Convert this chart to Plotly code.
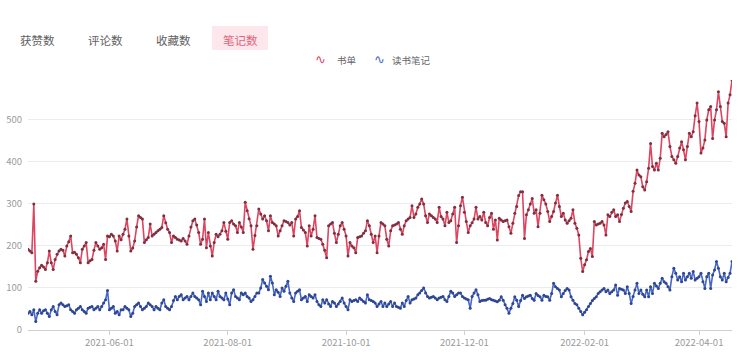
import pandas as pd
import plotly.graph_objects as go

start_date = "2021-04-20"

shudan = [
    192, 188, 184, 300, 116, 140, 148, 154, 150, 144, 160, 188, 160, 144, 168, 180, 188, 192, 190, 176,
    200, 210, 224, 184, 185, 180, 172, 160, 192, 200, 208, 160, 165, 168, 190, 208, 200, 192, 196, 204,
    168, 224, 222, 228, 224, 212, 188, 224, 215, 228, 240, 264, 224, 188, 195, 212, 245, 272, 268, 264,
    208, 215, 220, 252, 224, 228, 232, 236, 240, 244, 272, 255, 240, 232, 208, 224, 220, 216, 214, 212,
    218, 212, 204, 224, 245, 260, 264, 250, 232, 204, 216, 264, 196, 232, 200, 176, 208, 228, 222, 228,
    236, 256, 235, 216, 256, 260, 252, 248, 232, 256, 245, 232, 304, 284, 265, 248, 192, 225, 248, 288,
    276, 264, 272, 260, 236, 272, 256, 252, 248, 224, 236, 248, 260, 258, 256, 250, 256, 224, 264, 270,
    284, 244, 238, 232, 200, 248, 224, 240, 272, 220, 218, 216, 204, 190, 172, 248, 252, 256, 230, 208,
    228, 248, 256, 240, 224, 176, 208, 200, 196, 184, 220, 222, 224, 230, 236, 260, 248, 228, 208, 224,
    184, 224, 256, 252, 248, 216, 200, 236, 248, 250, 252, 256, 240, 228, 248, 260, 264, 268, 296, 268,
    276, 292, 300, 312, 300, 272, 256, 276, 272, 268, 264, 256, 292, 270, 264, 248, 280, 256, 260, 276,
    292, 208, 248, 296, 316, 280, 258, 232, 248, 255, 264, 292, 264, 270, 262, 280, 256, 248, 268, 278,
    240, 262, 214, 266, 262, 258, 260, 262, 246, 230, 254, 278, 294, 320, 329, 329, 218, 274, 286, 300,
    313, 278, 286, 246, 278, 321, 310, 300, 282, 258, 270, 282, 302, 321, 294, 270, 278, 262, 254, 260,
    266, 286, 254, 242, 226, 171, 139, 155, 167, 187, 194, 175, 258, 250, 252, 254, 258, 250, 226, 274,
    270, 280, 286, 270, 274, 258, 275, 290, 302, 306, 294, 282, 330, 349, 381, 369, 365, 341, 333, 353,
    385, 444, 389, 381, 397, 381, 409, 468, 460, 465, 472, 437, 413, 405, 397, 413, 433, 448, 429, 405,
    437, 468, 460, 472, 510, 540, 496, 421, 433, 452, 500, 524, 532, 456, 500, 524, 567, 532, 496, 492,
    460, 540, 560, 595,
]

dushu_biji = [
    40, 44, 36, 48, 20, 40, 48, 40, 46, 48, 40, 32, 48, 56, 44, 36, 60, 64, 60, 56,
    58, 60, 48, 44, 40, 48, 52, 56, 48, 44, 40, 52, 54, 56, 48, 52, 56, 48, 56, 64,
    72, 94, 48, 52, 56, 40, 44, 36, 48, 48, 56, 52, 48, 32, 40, 56, 60, 64, 56, 48,
    52, 56, 64, 60, 56, 48, 56, 52, 48, 64, 72, 56, 52, 48, 56, 70, 80, 72, 80, 84,
    72, 76, 80, 72, 80, 88, 80, 76, 72, 60, 92, 80, 68, 88, 72, 88, 80, 72, 92, 80,
    76, 72, 88, 74, 60, 88, 96, 80, 76, 72, 88, 84, 88, 80, 76, 68, 72, 80, 88, 88,
    100, 120, 112, 104, 96, 128, 112, 84, 96, 90, 80, 100, 92, 104, 116, 88, 76, 68, 88, 92,
    96, 72, 76, 80, 68, 84, 80, 76, 84, 68, 60, 56, 72, 64, 72, 62, 56, 68, 64, 56,
    62, 68, 76, 64, 56, 48, 72, 68, 70, 72, 68, 76, 72, 68, 64, 84, 72, 70, 68, 64,
    56, 62, 68, 56, 64, 56, 62, 68, 56, 64, 56, 54, 52, 64, 56, 70, 80, 64, 72, 74,
    76, 84, 88, 94, 100, 88, 80, 76, 78, 80, 76, 72, 76, 78, 80, 72, 68, 80, 92, 88,
    80, 84, 88, 88, 80, 76, 74, 72, 52, 80, 88, 96, 84, 68, 70, 71, 71, 73, 75, 72,
    71, 69, 67, 71, 79, 71, 60, 52, 40, 52, 63, 79, 71, 56, 70, 83, 75, 79, 81, 83,
    75, 71, 87, 82, 79, 71, 83, 80, 79, 71, 87, 111, 103, 99, 95, 79, 87, 94, 99, 95,
    79, 71, 63, 60, 52, 44, 36, 42, 48, 56, 63, 70, 75, 79, 87, 91, 95, 99, 91, 95,
    87, 91, 95, 107, 83, 99, 97, 95, 87, 103, 87, 63, 80, 95, 111, 87, 95, 85, 79, 95,
    79, 103, 87, 111, 105, 99, 111, 123, 115, 111, 103, 95, 127, 147, 135, 119, 127, 115, 135, 119,
    127, 135, 123, 139, 119, 123, 127, 135, 115, 99, 127, 135, 99, 131, 143, 163, 147, 127, 119, 135,
    115, 125, 135, 163,
]

x_tick_vals = ["2021-06-01", "2021-08-01", "2021-10-01", "2021-12-01", "2022-02-01", "2022-04-01"]
y_tick_vals = [0, 100, 200, 300, 400, 500]
tab_labels = ["获赞数", "评论数", "收藏数", "笔记数"]
series_names = ["书单", "读书笔记"]

dates = pd.date_range(start_date, periods=len(shudan), freq="D")

W, H = 750, 356
L, R, T, B = 28, 18, 80, 26
PW, PH = W - L - R, H - T - B


def px(x):
    return (x - L) / PW


def py(y):
    return (H - B - y) / PH


CJK = "Noto Sans CJK SC, Noto Sans, sans-serif"
RED = "#dd4560"
BLUE = "#4668c8"

fig = go.Figure()
fig.add_trace(go.Scatter(
    x=dates, y=shudan, name=series_names[0], mode="lines+markers",
    line=dict(color=RED, width=1.6),
    marker=dict(color="#7d3040", size=3),
    showlegend=False,
))
fig.add_trace(go.Scatter(
    x=dates, y=dushu_biji, name=series_names[1], mode="lines+markers",
    line=dict(color=BLUE, width=1.6),
    marker=dict(color="#2f4690", size=3),
    showlegend=False,
))

# tabs
tab_centers = [37, 105, 173, 240]
fig.add_shape(type="rect", xref="paper", yref="paper",
              x0=px(212), x1=px(268), y0=py(50), y1=py(26),
              fillcolor="#fde6ec", line=dict(width=0), layer="below")
for i, (lab, cx) in enumerate(zip(tab_labels, tab_centers)):
    fig.add_annotation(
        x=px(cx), y=py(40), xref="paper", yref="paper", text=lab, showarrow=False,
        xanchor="center", yanchor="middle",
        font=dict(family=CJK, size=11.5, color="#e0657a" if i == 3 else "#606060"),
    )

# legend
legend_items = [(series_names[0], RED, 320, 335), (series_names[1], BLUE, 379, 390)]
for name, col, ix, tx in legend_items:
    fig.add_annotation(x=px(ix), y=py(60), xref="paper", yref="paper", text="∿",
                       showarrow=False, xanchor="center", yanchor="middle",
                       font=dict(family="DejaVu Sans", size=13, color=col))
    fig.add_annotation(x=px(tx), y=py(60), xref="paper", yref="paper", text=name,
                       showarrow=False, xanchor="left", yanchor="middle",
                       font=dict(family=CJK, size=9.5, color="#666666"))

fig.update_layout(
    width=W, height=H,
    margin=dict(l=L, r=R, t=T, b=B, pad=0, autoexpand=False),
    paper_bgcolor="white", plot_bgcolor="white",
    font=dict(family=CJK, size=10, color="#999999"),
    xaxis=dict(
        range=[dates[0], dates[-1]], automargin=False,
        tickvals=x_tick_vals, tickformat="%Y-%m-%d",
        showgrid=False, zeroline=False,
        showline=True, linecolor="#d0d0d0", linewidth=1,
        ticks="outside", ticklen=4, tickcolor="#d0d0d0",
        tickfont=dict(size=9.5, color="#9a9a9a"),
    ),
    yaxis=dict(
        range=[0, 595], tickvals=y_tick_vals, automargin=False,
        showgrid=True, gridcolor="#ececec", gridwidth=1,
        zeroline=False, showline=False,
        tickfont=dict(size=9.5, color="#9a9a9a"),
        ticklabelstandoff=5,
    ),
)

# remove the default 8px page margin so the 750x356 figure fills the window exactly
fig.write_html(
    "out.html",
    config={"displayModeBar": False},
    post_script="document.body.style.margin='0';",
)
